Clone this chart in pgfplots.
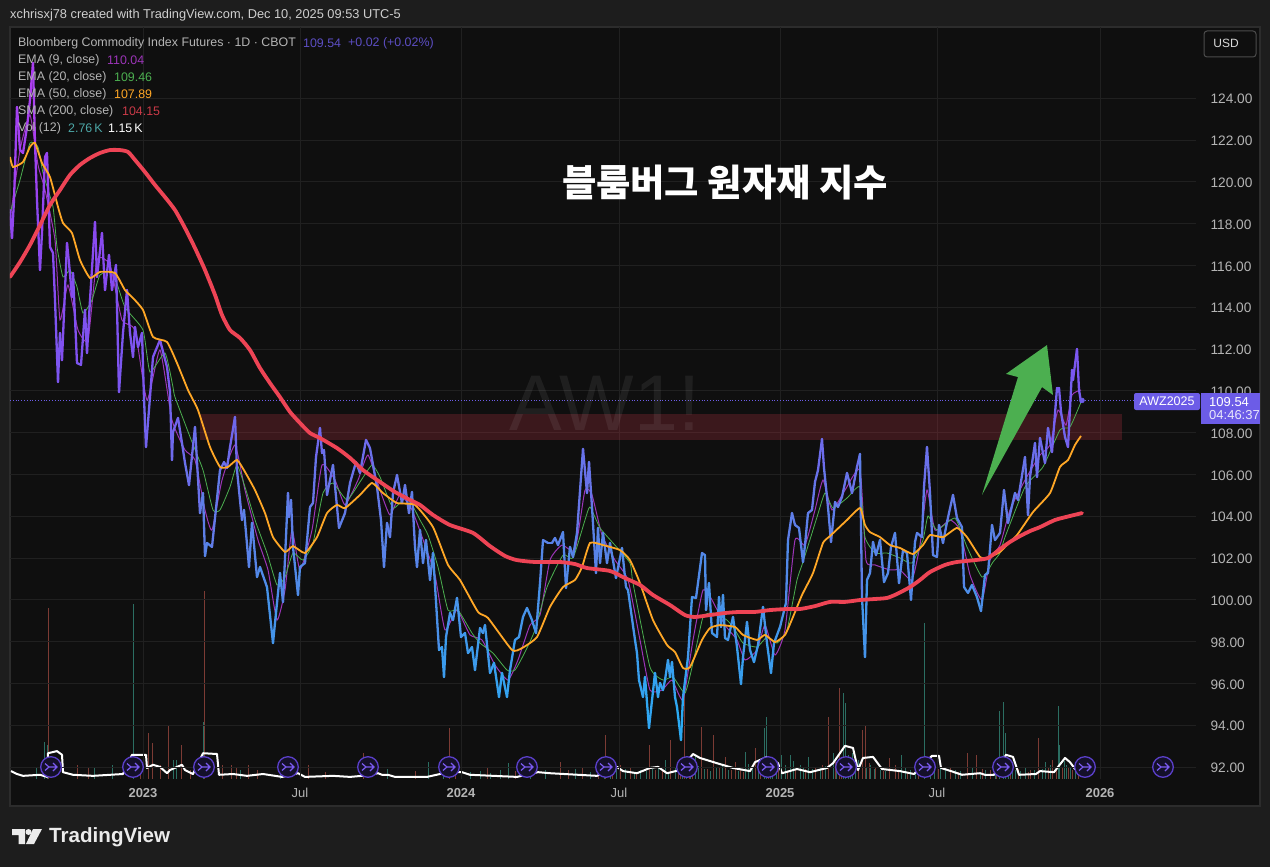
\documentclass[border=0pt]{standalone}
\usepackage{fontspec}
\usepackage{pgfplots}
\pgfplotsset{compat=1.18}
\setmainfont{Liberation Sans}
\newfontfamily\krfont{Noto Sans CJK KR}
\definecolor{outerbg}{HTML}{1D1D1D}
\definecolor{panelbg}{HTML}{0F0F0F}
\definecolor{framecol}{HTML}{2C2C2C}
\definecolor{gridcol}{HTML}{202020}
\definecolor{ticktext}{HTML}{B4B4B4}
\definecolor{headtext}{HTML}{CFCFCF}
\definecolor{emanine}{HTML}{9C35B8}
\definecolor{ematwenty}{HTML}{4CAF50}
\definecolor{emafifty}{HTML}{FFA726}
\definecolor{smared}{HTML}{EE4455}
\definecolor{volgreen}{HTML}{2B6E62}
\definecolor{volred}{HTML}{7C3B34}
\definecolor{tvpurple}{HTML}{6C5CE7}
\definecolor{circedge}{HTML}{5A3FC8}
\definecolor{circfill}{HTML}{14102A}
\definecolor{circarrow}{HTML}{7A5AF0}
\definecolor{arrowgreen}{HTML}{4CAF50}
\definecolor{bandred}{HTML}{B03040}
% split marker on the bottom of the chart
\pgfdeclareplotmark{tvsplit}{%
  \pgfsetlinewidth{1.3pt}\pgfsetstrokecolor{circedge}\pgfsetfillcolor{circfill}%
  \pgfpathcircle{\pgfpointorigin}{10.3pt}\pgfusepathqfillstroke
  \pgfsetlinewidth{1.2pt}\pgfsetstrokecolor{circarrow}%
  \pgfpathmoveto{\pgfpoint{-6pt}{3.5pt}}\pgfpathlineto{\pgfpoint{-2pt}{0pt}}\pgfpathlineto{\pgfpoint{6pt}{0pt}}%
  \pgfpathmoveto{\pgfpoint{-6pt}{-3.5pt}}\pgfpathlineto{\pgfpoint{-2pt}{0pt}}%
  \pgfpathmoveto{\pgfpoint{2pt}{4pt}}\pgfpathlineto{\pgfpoint{6pt}{0pt}}\pgfpathlineto{\pgfpoint{2pt}{-4pt}}%
  \pgfusepathqstroke
}
\newcommand{\sz}[1]{\fontsize{#1}{#1}\selectfont}
\begin{document}
\begin{tikzpicture}
\begin{scope}[x=1pt,y=-1pt]
\fill[outerbg] (0,0) rectangle (1270,867);
\fill[panelbg,draw=framecol,line width=1.5pt] (10,27) rectangle (1260,806);
\end{scope}

% volume pane, thousands of contracts
\begin{axis}[
  at={(10pt,-779pt)},anchor=south west,
  scale only axis,width=1186pt,height=752pt,
  xmin=10,xmax=1196,
  ymin=0,ymax=142.88,
  axis lines=none,
]
\addplot[ycomb,volgreen,line width=1pt,mark=none] coordinates {
(36,2.3)(44,7.0)(47,6.5)(94,2.1)(112,2.7)(133,33.3)(173,3.6)(176,3.6)(203,10.8)(240,1.7)(280,1.5)(387,1.9)
(428,3.2)(443,3.6)(470,1.3)(480,1.5)(490,1.1)(500,1.7)(508,3.0)(530,2.1)(545,1.7)(560,1.5)(575,1.9)(590,1.3)
(610,2.7)(625,1.9)(640,1.7)(658,2.1)(665,3.6)(675,2.1)(690,2.1)(695,4.6)(710,1.5)(722,2.7)(735,2.1)(745,5.1)
(752,2.7)(764,9.7)(766,11.8)(772,2.7)(781,4.6)(790,4.6)(800,2.7)(808,4.2)(820,2.1)(833,4.9)(843,16.3)(845,14.4)
(850,3.2)(855,4.2)(870,2.7)(880,1.7)(901,4.6)(910,1.7)(924,29.6)(930,2.7)(945,2.1)(955,1.7)(972,2.1)(985,1.7)
(999,12.9)(1003,14.6)(1005,8.7)(1015,1.7)(1025,2.1)(1045,3.2)(1058,13.9)(1059,6.5)(1066,2.7)
(604,1.5)(616,1.9)(634,1.3)(646,1.5)(652,1.9)(668,1.3)(682,3.4)(686,3.0)(698,2.5)(704,1.9)(716,2.1)(728,1.7)
(738,1.5)(748,2.9)(758,1.9)(770,2.3)(776,2.0)(785,2.7)(793,3.4)(803,2.3)(812,1.9)(825,2.5)(836,3.2)(848,4.5)
(852,5.0)(858,3.6)(866,2.3)(874,1.9)(885,1.5)(905,2.1)(915,1.9)(934,1.7)(940,2.1)(960,1.5)(980,1.3)(995,2.3)
(1008,3.2)(1012,2.5)(1020,1.5)(1034,1.7)(1042,1.9)(1050,2.7)(1064,3.4)(1070,2.3)(1075,1.3)};
\addplot[ycomb,volred,line width=1pt,mark=none] coordinates {
(48,32.5)(77,2.7)(88,2.3)(140,2.1)(148,8.7)(152,6.8)(160,2.7)(168,10.3)(181,6.5)(190,1.7)(204,35.7)(222,2.7)
(231,2.7)(236,2.1)(248,2.7)(257,1.7)(308,2.7)(325,1.3)(363,4.9)(415,1.5)(449,9.7)(455,2.1)(487,2.3)(515,1.5)
(560,3.2)(568,1.7)(582,2.1)(598,1.7)(605,8.4)(620,2.7)(630,2.1)(649,6.5)(655,1.7)(670,7.4)(680,2.5)(684,16.9)
(689,1.7)(701,9.9)(713,8.4)(725,4.2)(735,3.2)(740,1.7)(755,5.9)(760,2.1)(795,1.7)(815,2.3)(828,11.8)(839,17.3)
(862,9.3)(865,10.3)(875,2.1)(889,4.0)(895,2.7)(918,1.7)(950,2.1)(967,4.9)(976,4.6)(990,1.7)(1010,2.7)(1030,1.7)
(1038,7.8)(1052,3.6)(1062,2.1)(1072,1.7)(1078,1.3)
(612,1.5)(636,1.3)(662,1.7)(678,1.5)(692,2.3)(707,1.9)(719,2.3)(731,1.7)(743,1.3)(768,1.9)(778,2.1)(787,1.5)
(805,1.9)(822,2.7)(835,3.2)(841,4.0)(858,2.5)(869,3.0)(883,1.5)(898,1.7)(907,1.3)(938,1.9)(958,1.3)(982,1.9)
(996,1.5)(1018,1.9)(1028,1.3)(1048,2.1)(1056,1.7)(1068,2.3)};
% Vol (12)
\addplot[white,line width=2pt,mark=none,line join=round] coordinates {
(11,1.5)(17,.95)(23,.6)(40,.8)(47,.4)(48,4.9)(57,5.3)(62,4.6)(63,1.3)(73,.8)(93,.6)(123,.95)(132,4.6)(146,4.6)
(147,2.1)(153,2.7)(160,2.3)(167,1.1)(170,1.7)(177,2.3)(182,2.7)(185,1.7)(193,.95)(203,4.9)(217,4.75)(219,.8)
(233,.95)(247,.6)(263,.95)(282,.4)(298,1.1)(305,.4)(333,.6)(350,.4)(362,.6)(378,1.1)(382,.8)(388,.8)(395,.4)
(427,.4)(440,.95)(450,1.3)(462,1.3)(470,.8)(517,.4)(538,1.3)(550,1.1)(597,.6)(617,2.3)(623,1.5)(637,1.1)(650,2.1)
(658,2.3)(667,1.1)(680,1.7)(693,4.75)(700,4)(717,3)(733,2.1)(750,1.5)(755,3.2)(767,4.2)(778,3)(782,1.1)(797,1.9)
(810,1.3)(827,2.1)(833,3)(845,6.3)(853,5.9)(858,1.7)(863,4)(873,4.2)(882,1.9)(900,1.5)(914,.95)(932,4.4)(939,4.4)
(941,2.1)(951,1.5)(962,.8)(980,1.1)(985,.8)(994,.8)(1006,4.6)(1013,4.2)(1019,.8)(1036,.95)(1040,1.5)(1054,1.3)
(1065,4)(1070,3.2)(1075,1.9)(1081,1.7)};
\end{axis}

% price pane
\begin{axis}[
  at={(10pt,-779pt)},anchor=south west,
  scale only axis,width=1186pt,height=752pt,
  xmin=10,xmax=1196,
  ymin=91.426,ymax=127.409,
  axis line style={draw=none},
  major tick length=0pt,
  ytick={92,94,...,124},
  yticklabel pos=right,
  y tick label style={/pgf/number format/.cd,fixed,fixed zerofill,precision=2,assume math mode=true,
    /tikz/.cd,font=\sz{13.7},text=ticktext,anchor=west,xshift=11pt,yshift=-1pt},
  xtick={143,300,461,619,780,937,1100},
  xticklabels={\textbf{2023},Jul,\textbf{2024},Jul,\textbf{2025},Jul,\textbf{2026}},
  x tick label style={font=\sz{13},text=ticktext,yshift=-6pt},
  grid=major,
  grid style={gridcol,line width=0.8pt},
  colormap={pricemap}{rgb255(0cm)=(37,175,245); rgb255(7cm)=(74,144,232); rgb255(12cm)=(101,120,232);
    rgb255(17cm)=(120,90,240); rgb255(23cm)=(135,75,240); rgb255(32cm)=(175,60,240)},
  point meta min=93,point meta max=125,
  clip=true,
]
% resistance band
\addplot[fill=bandred,fill opacity=0.28,draw=none] coordinates {(200,107.65)(1122,107.65)(1122,108.89)(200,108.89)} --cycle;
% last price line
\addplot[tvpurple,dotted,line width=0.8pt,mark=none] coordinates {(10,109.54)(1196,109.54)};
% SMA 200 and EMA lines
\addplot[emanine,line width=1pt,mark=none,smooth,tension=0.3] coordinates {
(10,118.17)(20,121.52)(30,123.2)(38,120.81)(45,119.61)(55,117.22)(60,113.39)(68,115.06)(78,112.91)(88,112.43)
(97,116.26)(110,116.02)(122,113.39)(135,112.91)(147,109.56)(160,111.95)(172,108.6)(185,107.17)(195,106.69)
(205,104.3)(212,103.34)(222,105.73)(235,107.41)(245,105.25)(258,102.86)(268,101.43)(277,99.03)(285,100.47)
(292,103.34)(300,101.43)(312,103.34)(322,106.45)(335,105.73)(345,104.54)(358,105.73)(368,106.93)(380,105.25)
(390,104.06)(400,105.02)(412,104.3)(425,102.62)(435,101.19)(445,98.56)(457,99.51)(470,98.32)(482,98.08)
(495,96.88)(508,96.16)(518,97.12)(530,98.79)(540,99.27)(550,101.9)(562,102.62)(575,102.38)(585,105.25)
(592,105.02)(602,103.1)(615,101.9)(628,100.95)(640,98.08)(650,95.68)(662,95.68)(672,96.16)(683,95.21)
(693,98.08)(703,100.47)(712,99.99)(725,98.79)(737,98.08)(745,97.12)(757,97.6)(765,98.79)(775,97.36)(785,98.56)
(795,102.86)(805,102.62)(815,104.3)(823,105.73)(832,104.3)(845,105.25)(860,106.21)(866,101.9)(875,101.67)
(890,101.43)(900,101.43)(912,100.95)(920,102.62)(927,105.25)(935,103.34)(950,103.82)(960,103.34)(970,101.19)
(982,99.99)(990,101.9)(1000,102.62)(1010,104.3)(1025,105.73)(1040,106.93)(1050,107.41)(1058,109.08)(1066,108.36)
(1072,109.8)(1081,110.04)};
\addplot[ematwenty,line width=0.8pt,mark=none,smooth,tension=0.3] coordinates {
(10,118.51)(20,120.09)(30,121.86)(38,121.67)(43,120.42)(53,118.8)(57,116.88)(63,115.45)(70,115.78)(77,114.97)
(83,113.72)(92,114.35)(100,115.54)(113,115.64)(125,114)(143,112.91)(150,110.9)(165,111.81)(173,110.18)(175,109.7)
(192,107.55)(203,106.21)(213,104.3)(220,104.3)(230,105.4)(237,106.45)(245,105.4)(255,103.82)(267,102.24)
(277,100.71)(285,101.09)(293,102.24)(303,101.9)(313,102.72)(323,105.11)(333,105.59)(347,104.78)(360,105.64)
(372,106.45)(380,105.88)(393,104.39)(407,104.92)(420,103.82)(428,103.1)(438,101.57)(448,99.51)(458,99.51)
(472,98.41)(480,97.93)(493,97.45)(507,96.64)(515,96.64)(525,97.5)(535,98.56)(547,100.61)(563,102.14)(573,102)
(585,103.82)(590,104.44)(600,103.44)(613,102.72)(630,101.76)(633,100.8)(650,96.78)(663,96.16)(673,96.31)
(685,95.54)(693,96.98)(703,99.18)(713,99.37)(727,99.03)(735,98.56)(743,97.93)(757,97.74)(767,98.22)(777,97.93)
(787,98.56)(797,100.95)(803,101.81)(817,103.96)(825,105.11)(833,104.39)(847,104.87)(860,105.4)(865,103)
(875,102.24)(887,102.24)(900,102)(912,101.76)(923,102.86)(928,104.01)(937,103.34)(955,103.91)(967,102.53)
(982,101.09)(993,101.81)(1000,102.24)(1005,103)(1025,105.4)(1043,106.36)(1060,108.13)(1070,108.27)(1081,109.46)};
% close
\addplot[mesh,line width=2.3pt,line join=round,line cap=round,point meta=y,mark=none] coordinates {
(10,118.65)(12,117.31)(14,119.13)(17,123.58)(20,121.52)(23,121.38)(27,122.62)(30,123.92)(33,125.69)(35,121.86)
(37,119.13)(40,115.78)(42,117.55)(45,121.19)(47,121.38)(50,116.88)(53,116.6)(55,114.35)(58,110.42)(60,112.77)
(62,111.47)(67,117.07)(69,116.12)(72,114.49)(73,115.64)(77,111.33)(81,111.24)(85,113.87)(87,111.81)(90,114.35)
(95,118.08)(97,115.45)(102,117.55)(105,114.82)(109,116.5)(112,114.82)(116,116.02)(119,109.94)(123,112.77)
(127,114.82)(130,112.77)(133,111.62)(135,113.05)(138,112.1)(142,112.77)(144,109.66)(146,107.31)(150,109.7)
(153,111.62)(160,112.43)(167,111.14)(170,109.94)(172,106.69)(173,108.03)(178,108.7)(182,107.5)(185,106.55)
(189,105.49)(195,108.27)(200,104.15)(203,105.11)(205,102.1)(207,102.72)(212,102.53)(220,106.21)(224,106.59)
(227,106.31)(230,107.31)(235,108.75)(237,106.21)(242,103.82)(244,104.3)(249,101.57)(252,103.68)(257,101.09)
(260,101.57)(267,100.61)(273,97.93)(277,99.85)(280,101.28)(283,99.9)(288,105.11)(289,103.96)(291,104.78)
(293,102.53)(298,100.23)(300,101.57)(305,101.76)(310,104.44)(313,104.63)(316,106.83)(320,108.22)(322,107.02)
(324,107.17)(327,105.02)(333,106.45)(339,103.44)(345,104.15)(350,105.59)(356,106.59)(360,106.07)(366,107.65)
(370,107.26)(377,105.4)(381,103.82)(384,101.57)(387,103.68)(390,103)(393,105.11)(397,105.97)(402,104.63)
(405,105.49)(409,104.15)(412,105.16)(415,102.53)(417,101.57)(420,103.34)(423,101.76)(426,102.86)(430,100.95)
(433,102.24)(439,97.6)(442,97.74)(444,96.31)(446,98.22)(450,99.37)(453,99.03)(457,100.09)(461,98.22)(465,98.41)
(468,97.45)(472,97.74)(475,96.64)(480,98.65)(483,98.41)(485,98.79)(490,96.5)(494,96.98)(499,95.35)(502,96.5)
(507,95.35)(510,96.64)(515,98.08)(519,98.22)(523,99.18)(527,99.61)(532,99.03)(536,98.41)(540,100.8)(543,102.86)
(548,102.72)(552,102.72)(555,102.96)(558,102.62)(563,103.24)(566,100.57)(570,102.53)(573,102.05)(577,103.2)
(583,107.22)(587,105.11)(589,106.59)(592,104.44)(596,101.28)(598,103.44)(600,101.76)(603,103.2)(607,101.76)
(610,102.72)(616,101.04)(622,102.48)(626,100.61)(628,100.47)(635,98.08)(637,97.45)(639,96.16)(643,95.35)
(645,96.31)(649,93.87)(655,96.5)(658,95.35)(660,96.02)(663,95.68)(665,96.16)(668,97.12)(670,96.31)(672,97.02)
(675,95.35)(677,94.87)(681,93.29)(683,95.35)(688,97.26)(692,100.13)(696,100.09)(702,102.24)(705,102.14)(706,99.51)
(709,100.8)(712,98.41)(717,98.22)(719,100.13)(721,98.7)(723,100.23)(725,98.17)(728,98.08)(733,99.18)(737,97.74)
(741,95.97)(743,97.26)(747,98.94)(750,97.6)(754,97.02)(758,97.84)(763,99.66)(767,97.93)(771,96.5)(774,97.93)
(780,98.7)(786,99.85)(788,102.86)(792,104.15)(795,103.58)(799,103.44)(803,101.81)(805,102.62)(808,104.15)
(812,104.3)(815,105.64)(818,106.21)(822,107.69)(824,106.31)(828,104.44)(831,102.77)(835,104.68)(838,104.44)
(842,104.92)(847,106.07)(852,105.11)(857,106.36)(860,106.98)(862,100.13)(865,97.26)(867,100.95)(870,101.28)
(873,102.77)(876,102.14)(880,102.86)(884,100.85)(888,101.28)(891,102.53)(895,103.2)(899,100.8)(903,102.38)
(907,102.24)(911,100)(915,102.77)(917,103.2)(922,103)(924,105.4)(927,107.31)(930,105.11)(933,102.14)(937,102.05)
(939,103.58)(943,102.72)(947,103.72)(953,105.02)(957,103.91)(962,103.48)(964,100.61)(968,100.33)(972,100.71)
(977,100.13)(981,99.46)(985,101.19)(988,101.28)(992,103.58)(995,102.86)(1000,103.2)(1004,105.25)(1008,103.68)
(1015,105.11)(1018,104.78)(1025,106.83)(1028,104.06)(1030,105.88)(1035,107.5)(1037,105.88)(1040,107.74)
(1045,106.55)(1048,108.22)(1052,107.07)(1057,110.14)(1059,110.14)(1061,108.99)(1065,107.79)(1068,107.31)
(1072,111)(1073,110.52)(1077,112)(1079,110.04)(1081,109.47)(1082,109.54)};
\addplot[only marks,mark=*,mark size=2.5pt,color=tvpurple] coordinates {(1082,109.54)};
\addplot[emafifty,line width=1.8pt,mark=none,smooth,tension=0.3] coordinates {
(10,121.19)(13,120.71)(23,120.95)(30,121.67)(35,121.86)(42,120.9)(50,120.23)(58,118.8)(63,118.03)(72,117.55)
(80,116.26)(90,115.4)(100,115.69)(115,115.64)(125,114.82)(133,114.44)(143,113.87)(153,112.58)(167,112.34)
(177,111.33)(188,110.04)(198,109.08)(210,107.31)(220,106.36)(228,106.36)(237,106.69)(245,106.12)(255,105.25)
(265,104.15)(273,103)(285,102.29)(293,102.57)(305,102.24)(317,103)(327,104.15)(337,104.54)(345,104.39)(360,105.02)
(372,105.59)(383,105.11)(397,104.63)(415,104.54)(433,103.48)(448,101.67)(460,100.95)(478,99.42)(488,99.13)
(512,97.6)(522,97.69)(537,98.22)(550,99.66)(563,100.61)(575,100.95)(582,101.57)(590,102.72)(603,102.62)
(620,102.38)(630,101.9)(640,100.8)(653,99.03)(667,97.84)(675,97.5)(683,96.74)(690,96.78)(702,98.08)(710,98.65)
(720,98.79)(735,98.7)(743,98.32)(757,98.08)(765,98.32)(775,97.98)(785,98.32)(793,99.18)(802,100.23)(813,101.28)
(823,102.72)(830,103.05)(847,103.82)(860,104.39)(865,103.58)(870,103.24)(880,103)(890,102.62)(900,102.48)
(913,102.19)(923,102.62)(930,103.1)(943,103)(957,103.44)(967,103)(980,102.05)(988,102)(1000,102.29)(1005,102.53)
(1017,103.1)(1033,104.2)(1050,105.11)(1060,106.36)(1068,106.69)(1075,107.41)(1081,107.84)};
\addplot[smared,line width=3.8pt,mark=none,smooth,tension=0.4,line cap=round] coordinates {
(10,115.45)(20,116.16)(30,116.98)(40,117.93)(50,118.89)(60,119.61)(70,120.33)(80,120.81)(90,121.14)(100,121.38)
(110,121.52)(120,121.52)(128,121.43)(135,121.05)(145,120.47)(155,119.85)(165,119.27)(175,118.65)(185,117.79)
(195,116.83)(205,115.78)(215,114.59)(222,113.63)(230,112.91)(240,112.53)(250,111.95)(260,111.09)(270,110.37)
(280,109.7)(290,108.99)(300,108.46)(310,107.98)(320,107.74)(337,107.26)(350,106.79)(363,106.21)(380,105.64)
(395,105.16)(410,104.78)(420,104.54)(433,104.06)(450,103.58)(473,103.2)(490,102.57)(505,102.1)(517,101.9)
(535,101.81)(560,101.81)(575,101.71)(587,101.52)(610,101.38)(625,101.04)(640,100.71)(653,100.23)(670,99.75)
(685,99.27)(695,99.18)(710,99.27)(725,99.37)(740,99.42)(755,99.42)(770,99.51)(787,99.56)(800,99.56)(815,99.7)
(830,99.9)(845,99.9)(860,99.99)(875,100.04)(887,100.09)(897,100.28)(910,100.61)(920,100.95)(930,101.33)
(945,101.67)(957,101.81)(975,101.9)(988,102)(1000,102.43)(1010,102.77)(1020,103.05)(1030,103.29)(1040,103.48)
(1055,103.82)(1070,104.01)(1082,104.15)};
% hand drawn arrow
\addplot[fill=arrowgreen,draw=none] coordinates {(1047,112.19)(1006,110.81)(1018,110.66)(982,105.02)(1042,110.18)(1053,109.8)} --cycle;
% splits, last one is still to come
\addplot[only marks,mark=tvsplit] coordinates {(51,92)(133,92)(204,92)(288,92)(368,92)(449,92)(527,92)(606,92)(687,92)(768,92)(846,92)(925,92)(1003,92)(1085,92)(1163,92)};
\end{axis}

\begin{scope}[x=1pt,y=-1pt]
% watermark
\node[anchor=center,text=white,opacity=0.07,font=\sz{79}] at (605,403) {AW1!};
\node[anchor=center,text=white,font={\sz{37.3}\krfont\bfseries}] at (725,183) {블룸버그 원자재 지수};

% header and legend
\node[anchor=west,text=headtext,font=\sz{12.8},inner sep=0] at (10,15) {xchrisxj78 created with TradingView.com, Dec 10, 2025 09:53 UTC-5};
\begin{scope}[every node/.style={anchor=west,inner sep=0,font=\sz{12.4}}]
\node[text=ticktext] at (18,43.5) {Bloomberg Commodity Index Futures · 1D · CBOT};
\node[text=tvpurple!85!black] at (303,43.5) {109.54};
\node[text=tvpurple!85!black] at (348,43.5) {+0.02 (+0.02\%)};
\node[text=ticktext] at (18,60.5) {EMA (9, close)};
\node[text=emanine] at (107,60.5) {110.04};
\node[text=ticktext] at (18,77.5) {EMA (20, close)};
\node[text=ematwenty] at (114,77.5) {109.46};
\node[text=ticktext] at (18,94.5) {EMA (50, close)};
\node[text=emafifty] at (114,94.5) {107.89};
\node[text=ticktext] at (18,111.5) {SMA (200, close)};
\node[text=smared!85!black] at (122,111.5) {104.15};
\node[text=ticktext] at (18,128.5) {Vol (12)};
\node[text=teal!70!white] at (68,128.5) {2.76\,K};
\node[text=white] at (108,128.5) {1.15\,K};
\end{scope}

% USD button
\draw[framecol!85!white,fill=panelbg,line width=1pt,rounded corners=3pt] (1204,31) rectangle (1256,57);
\node[text=white!85!black,font=\sz{12}] at (1226,43.5) {USD};

% last price labels
\fill[tvpurple,rounded corners=2pt] (1134,393) rectangle (1200,410);
\node[text=white,font=\sz{12.5}] at (1167,401.5) {AWZ2025};
\fill[tvpurple] (1201,393) rectangle (1260,424);
\node[anchor=west,inner sep=0,text=white,font=\sz{13}] at (1209,402) {109.54};
\node[anchor=west,inner sep=0,text=white!85!tvpurple,font=\sz{13}] at (1209,415.5) {04:46:37};

% logo
\fill[white!92!black] (12,829) -- (25,829) -- (25,844) -- (18.5,844) -- (18.5,835) -- (12,835) -- cycle;
\fill[white!92!black] (28.5,832) circle (3);
\fill[white!92!black] (33,829) -- (42,829) -- (34,844) -- (26,844) -- cycle;
\node[anchor=west,inner sep=0,text=white!92!black,font={\sz{20.6}\bfseries}] at (49,837) {TradingView};
\end{scope}
\end{tikzpicture}
\end{document}
